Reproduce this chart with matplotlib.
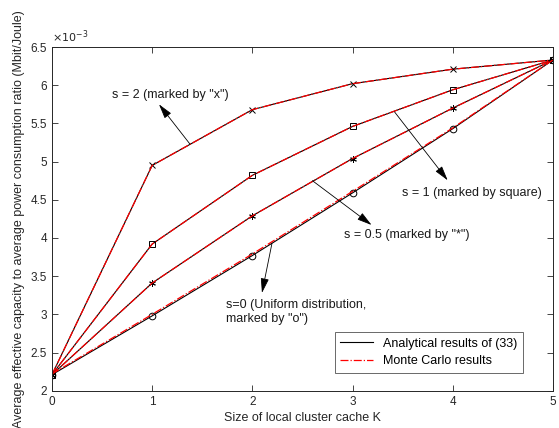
import matplotlib
matplotlib.use("Agg")
import matplotlib.pyplot as plt
from matplotlib.lines import Line2D
from matplotlib.ticker import FuncFormatter

plt.rcParams['font.family'] = ['Liberation Sans', 'DejaVu Sans']

K = [0, 1, 2, 3, 4, 5]

# analytical results (x 1e-3 Mbit/Joule)
ana_s2 = [2.21, 4.95, 5.68, 6.02, 6.21, 6.33]
ana_s1 = [2.21, 3.92, 4.82, 5.46, 5.94, 6.33]
ana_s05 = [2.21, 3.41, 4.29, 5.04, 5.70, 6.33]
ana_s0 = [2.21, 2.98, 3.77, 4.59, 5.43, 6.33]

# monte carlo results
mc_s2 = [2.21, 4.95, 5.68, 6.02, 6.21, 6.33]
mc_s1 = [2.21, 3.92, 4.82, 5.46, 5.94, 6.33]
mc_s05 = [2.21, 3.41, 4.29, 5.04, 5.70, 6.33]
mc_s0 = [2.22, 3.00, 3.79, 4.61, 5.44, 6.33]

xticks = [0, 1, 2, 3, 4, 5]
yticks = [2, 2.5, 3, 3.5, 4, 4.5, 5, 5.5, 6, 6.5]

gray = '#262626'
asterisk = (6, 2, 0)

fig = plt.figure(figsize=(5.59, 4.28), dpi=100)
ax = fig.add_axes([0.093, 0.0871, 0.896, 0.803])

series = [(ana_s2, mc_s2, 'x'), (ana_s1, mc_s1, 's'),
          (ana_s05, mc_s05, asterisk), (ana_s0, mc_s0, 'o')]
for ana, mc, mk in series:
    ax.plot(K, ana, color='k', lw=0.8, marker=mk, ms=4.8, mfc='none', mec='k', mew=0.7)
    ax.plot(K, mc, color='r', lw=0.9, ls='-.')

ax.set_xlim(0, 5)
ax.set_ylim(2, 6.5)
ax.set_xticks(xticks)
ax.set_yticks(yticks)
ax.yaxis.set_major_formatter(FuncFormatter(lambda v, p: '%g' % v))
ax.tick_params(direction='in', top=True, right=True, labelsize=8.5, colors=gray, length=4, width=0.6)
for sp in ax.spines.values():
    sp.set_color(gray)
    sp.set_linewidth(0.7)

ax.set_xlabel('Size of local cluster cache K', fontsize=9, color=gray, labelpad=3)
ax.set_ylabel('Average effective capacity to average power consumption ratio (Mbit/Joule)',
              fontsize=9, color=gray, labelpad=4)
ax.text(0.0, 1.005, r'$\times10^{-3}$', transform=ax.transAxes, fontsize=8, color=gray,
        va='bottom', ha='left')

arrow = dict(arrowstyle='-|>,head_length=0.9,head_width=0.25', color='k', lw=0.6, shrinkA=0, shrinkB=0)
fs = 9
ax.text(0.60, 5.87, 's = 2 (marked by "x")', fontsize=fs, va='center', color='#1a1a1a')
ax.annotate('', xy=(1.068, 5.75), xytext=(1.377, 5.23), arrowprops=arrow)
ax.text(3.49, 4.59, 's = 1 (marked by square)', fontsize=fs, va='center', color='#1a1a1a')
ax.annotate('', xy=(3.95, 4.755), xytext=(3.42, 5.65), arrowprops=arrow)
ax.text(2.92, 4.04, 's = 0.5 (marked by "*")', fontsize=fs, va='center', color='#1a1a1a')
ax.annotate('', xy=(3.19, 4.17), xytext=(2.60, 4.75), arrowprops=arrow)
ax.text(1.74, 3.03, 's=0 (Uniform distribution,\nmarked by "o")', fontsize=fs, va='center',
        color='#1a1a1a', linespacing=1.3)
ax.annotate('', xy=(2.096, 3.28), xytext=(2.196, 3.93), arrowprops=arrow)

handles = [Line2D([], [], color='k', lw=0.8), Line2D([], [], color='r', lw=0.9, ls='-.')]
leg = ax.legend(handles, ['Analytical results of (33)', 'Monte Carlo results'],
                loc='lower right', bbox_to_anchor=(0.94, 0.052), fontsize=9, fancybox=False,
                edgecolor=gray, handlelength=2.6, borderpad=0.45, labelspacing=0.45,
                borderaxespad=0)
leg.get_frame().set_linewidth(0.6)

fig.savefig('out.png', dpi=100)
